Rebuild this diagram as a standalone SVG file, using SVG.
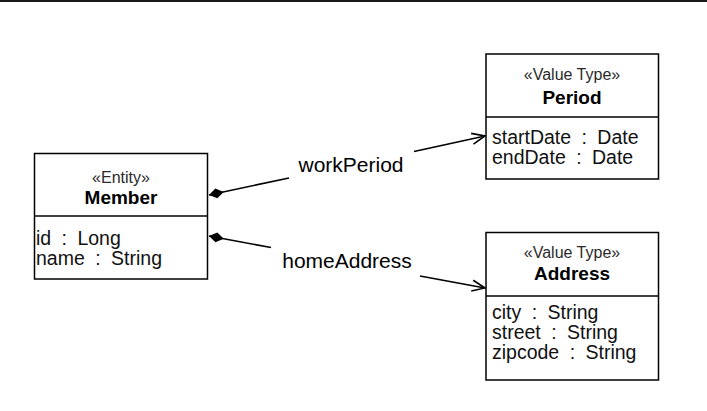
<svg xmlns="http://www.w3.org/2000/svg" width="707" height="411" viewBox="0 0 707 411">
  <style>
    .box { fill: #ffffff; stroke: #000000; stroke-width: 1.5; }
    .div { stroke: #000000; stroke-width: 1.5; }
    .stereo { font-family: "Liberation Sans", Arial, sans-serif; font-size: 16px; fill: #2a2a2a; text-anchor: middle; }
    .name { font-family: "Liberation Sans", Arial, sans-serif; font-size: 19px; font-weight: bold; fill: #000000; text-anchor: middle; }
    .attr { font-family: "Liberation Sans", Arial, sans-serif; font-size: 19.5px; fill: #111111; word-spacing: 5px; }
    .label { font-family: "Liberation Sans", Arial, sans-serif; font-size: 21px; fill: #000000; text-anchor: middle; }
    .link { stroke: #000000; stroke-width: 1.6; fill: none; }
  </style>
  <defs>
    <marker id="diamond" viewBox="-1 -7 18 14" refX="0" refY="0" markerWidth="18" markerHeight="14" markerUnits="userSpaceOnUse" orient="auto">
      <path d="M0,0 L7.5,-5 L15,0 L7.5,5 Z" fill="#000000"/>
    </marker>
    <marker id="arrow" viewBox="-16 -8 18 16" refX="0" refY="0" markerWidth="18" markerHeight="16" markerUnits="userSpaceOnUse" orient="auto">
      <path d="M-13,-5.5 L0,0 L-13,5.5" fill="none" stroke="#000000" stroke-width="1.6"/>
    </marker>
  </defs>

  <rect x="0" y="0" width="707" height="411" fill="#ffffff"/>
  <!-- top rule -->
  <rect x="0" y="0" width="707" height="2" fill="#1a1a1a"/>

  <!-- associations -->
  <g id="connectors">
    <line class="link" x1="209" y1="195" x2="289" y2="178" marker-start="url(#diamond)"/>
    <line class="link" x1="414" y1="151.5" x2="485" y2="136" marker-end="url(#arrow)"/>
    <text class="label" x="351" y="172">workPeriod</text>

    <line class="link" x1="209" y1="236" x2="271" y2="247.5" marker-start="url(#diamond)"/>
    <line class="link" x1="420" y1="276" x2="485" y2="288" marker-end="url(#arrow)"/>
    <text class="label" x="347" y="268">homeAddress</text>
  </g>

  <g id="member">
    <rect class="box" x="34.5" y="153.5" width="173" height="125.5"/>
    <line class="div" x1="34.5" y1="216" x2="207.5" y2="216"/>
    <text class="stereo" x="121" y="183">«Entity»</text>
    <text class="name" x="121" y="203.5">Member</text>
    <text class="attr" x="36" y="244.5">id : Long</text>
    <text class="attr" x="36" y="264.5">name : String</text>
  </g>

  <g id="period">
    <rect class="box" x="486" y="54" width="172.5" height="125"/>
    <line class="div" x1="486" y1="117" x2="658.5" y2="117"/>
    <text class="stereo" x="572" y="79.5">«Value Type»</text>
    <text class="name" x="572" y="103.5">Period</text>
    <text class="attr" x="492" y="143.5">startDate : Date</text>
    <text class="attr" x="492" y="163.5">endDate : Date</text>
  </g>

  <g id="address">
    <rect class="box" x="486" y="232.5" width="172.5" height="147.5"/>
    <line class="div" x1="486" y1="296" x2="658.5" y2="296"/>
    <text class="stereo" x="572" y="258">«Value Type»</text>
    <text class="name" x="572" y="279.5">Address</text>
    <text class="attr" x="492" y="319">city : String</text>
    <text class="attr" x="492" y="339">street : String</text>
    <text class="attr" x="492" y="359">zipcode : String</text>
  </g>
</svg>
